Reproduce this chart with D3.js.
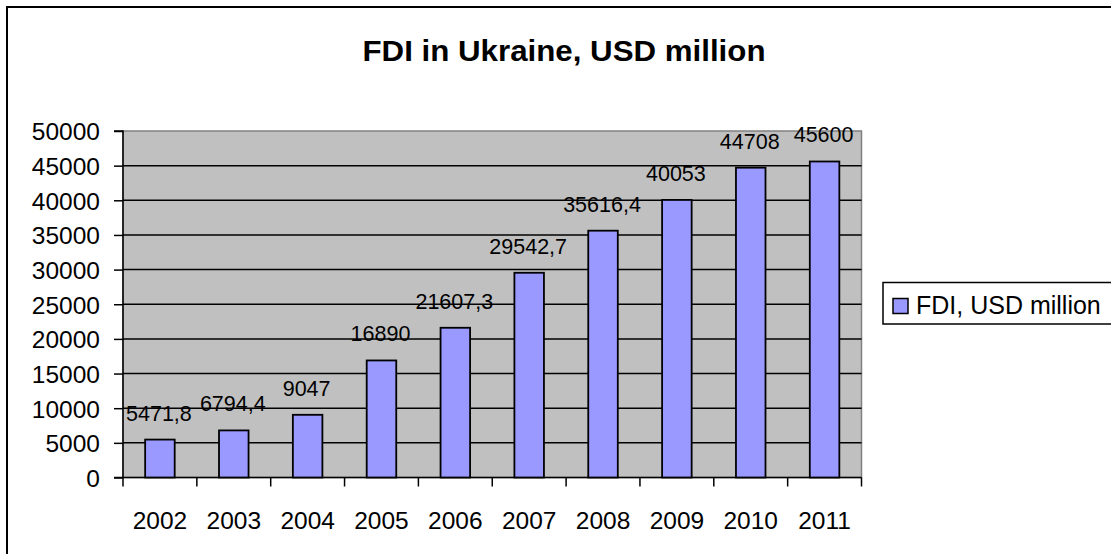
<!DOCTYPE html>
<html>
<head>
<meta charset="utf-8">
<script src="https://cdn.jsdelivr.net/npm/d3@7"></script>
<style>
  html, body { margin: 0; padding: 0; background: #fff; }
  svg { display: block; font-family: Arial, "Liberation Sans", sans-serif; }
</style>
</head>
<body>
<svg id="chart" width="1111" height="554"></svg>
<script>
const years = ["2002","2003","2004","2005","2006","2007","2008","2009","2010","2011"];
const fdiValues = [5471.8, 6794.4, 9047, 16890, 21607.3, 29542.7, 35616.4, 40053, 44708, 45600];
const valueLabels = ["5471,8","6794,4","9047","16890","21607,3","29542,7","35616,4","40053","44708","45600"];
const yTicks = [0,5000,10000,15000,20000,25000,30000,35000,40000,45000,50000];
const titleText = "FDI in Ukraine, USD million";
const seriesName = "FDI, USD million";

const svg = d3.select("#chart");

// outer chart frame (extends beyond right/bottom of window)
svg.append("rect")
  .attr("x", 7).attr("y", 7).attr("width", 1200).attr("height", 600)
  .attr("fill", "#fff").attr("stroke", "#000").attr("stroke-width", 2);

const plot = { left: 123, right: 861.5, top: 131, bottom: 477.5 };

const x = d3.scaleBand().domain(years).range([plot.left, plot.right]).padding(0);
const y = d3.scaleLinear().domain([0, 50000]).range([plot.bottom, plot.top]);

// plot background
svg.append("rect")
  .attr("x", plot.left).attr("y", plot.top)
  .attr("width", plot.right - plot.left).attr("height", plot.bottom - plot.top)
  .attr("fill", "#C0C0C0").attr("stroke", "#808080").attr("stroke-width", 1.5);

// gridlines
svg.append("g").selectAll("line")
  .data(yTicks.filter(t => t > 0 && t < 50000))
  .join("line")
  .attr("x1", plot.left).attr("x2", plot.right)
  .attr("y1", d => y(d)).attr("y2", d => y(d))
  .attr("stroke", "#000").attr("stroke-width", 1.5);

// y axis
const yAxis = d3.axisLeft(y).tickValues(yTicks).tickSize(9).tickPadding(14).tickFormat(d3.format("d"));
const yg = svg.append("g").attr("transform", `translate(${plot.left},0)`).call(yAxis);
yg.select(".domain").attr("stroke", "#000").attr("stroke-width", 1.5).attr("d", `M-9,${plot.top}H0V${plot.bottom}`);
yg.selectAll(".tick line").attr("stroke", "#000").attr("stroke-width", 1.5);
yg.selectAll(".tick text").attr("font-size", 24.5).attr("fill", "#000")
  .attr("font-family", "Arial, 'Liberation Sans', sans-serif").attr("dy", "0.36em");

// x axis
const xAxis = d3.axisBottom(x).tickSize(0).tickPadding(34);
const xg = svg.append("g").attr("transform", `translate(0,${plot.bottom})`).call(xAxis);
xg.select(".domain").remove();
xg.selectAll(".tick text").attr("font-size", 24.5).attr("fill", "#000")
  .attr("font-family", "Arial, 'Liberation Sans', sans-serif");
// category boundary ticks
const bounds = years.map(d => x(d)).concat([plot.right]);
svg.append("g").selectAll("line").data(bounds).join("line")
  .attr("x1", d => d).attr("x2", d => d)
  .attr("y1", plot.bottom).attr("y2", plot.bottom + 9)
  .attr("stroke", "#000").attr("stroke-width", 1.5);
svg.append("line")
  .attr("x1", plot.left - 9).attr("x2", plot.right)
  .attr("y1", plot.bottom).attr("y2", plot.bottom)
  .attr("stroke", "#000").attr("stroke-width", 1.5);

// bars
const barW = x.bandwidth() / 2.5;
svg.append("g").selectAll("rect")
  .data(years.map((yr, i) => ({ yr, v: fdiValues[i], lbl: valueLabels[i] })))
  .join("rect")
  .attr("x", d => x(d.yr) + x.bandwidth() / 2 - barW / 2)
  .attr("y", d => y(d.v))
  .attr("width", barW)
  .attr("height", d => y(0) - y(d.v))
  .attr("fill", "#9999FF").attr("stroke", "#000").attr("stroke-width", 1.8);

// data labels
svg.append("g").selectAll("text")
  .data(years.map((yr, i) => ({ yr, v: fdiValues[i], lbl: valueLabels[i] })))
  .join("text")
  .attr("x", d => x(d.yr) + x.bandwidth() / 2 - 1)
  .attr("y", d => y(d.v) - 19)
  .attr("text-anchor", "middle")
  .attr("font-size", 21.5).attr("fill", "#000")
  .text(d => d.lbl);

// title
svg.append("text")
  .attr("x", 564).attr("y", 61)
  .attr("text-anchor", "middle")
  .attr("font-size", 29).attr("font-weight", "bold").attr("fill", "#000")
  .attr("textLength", 403).attr("lengthAdjust", "spacingAndGlyphs")
  .text(titleText);

// legend
const lg = svg.append("g");
lg.append("rect").attr("x", 883).attr("y", 282.5).attr("width", 300).attr("height", 41.5)
  .attr("fill", "#fff").attr("stroke", "#000").attr("stroke-width", 1.5);
lg.append("rect").attr("x", 893).attr("y", 298.5).attr("width", 15).attr("height", 15)
  .attr("fill", "#9999FF").attr("stroke", "#000").attr("stroke-width", 1.5);
lg.append("text").attr("x", 916).attr("y", 314).attr("font-size", 25).attr("fill", "#000")
  .text(seriesName);
</script>
</body>
</html>
